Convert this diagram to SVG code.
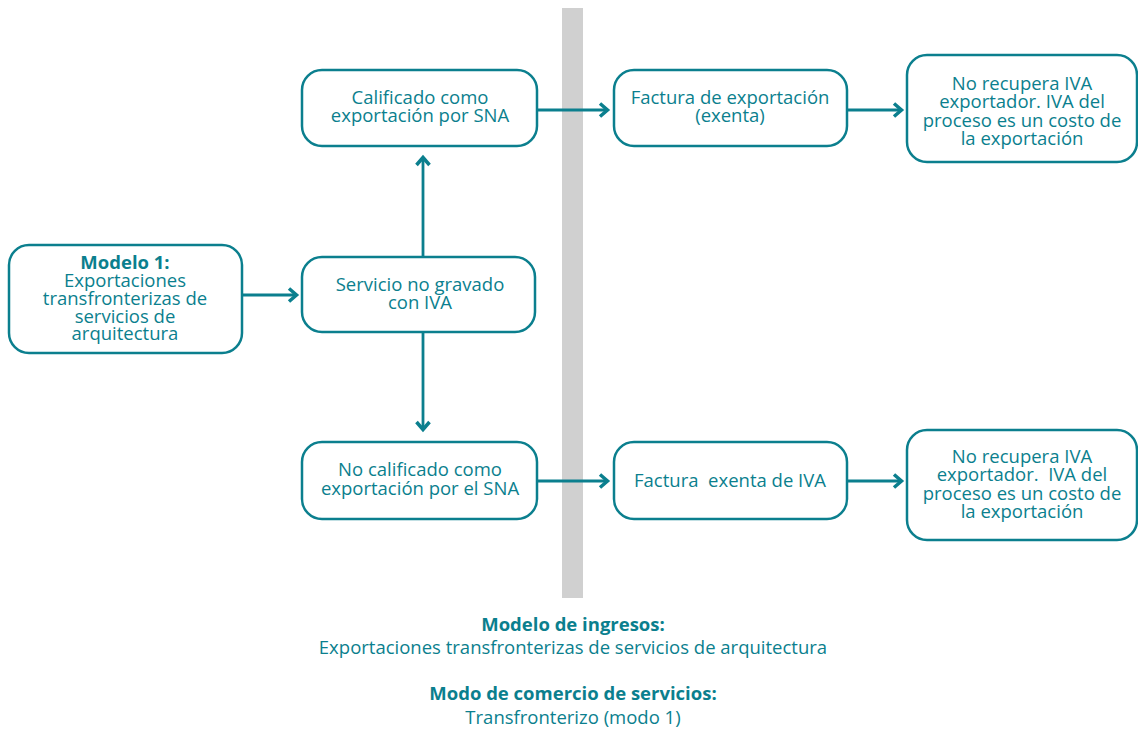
<svg xmlns="http://www.w3.org/2000/svg" width="1138" height="730" viewBox="0 0 1138 730">
<style>
.box{fill:#fff;stroke:#0b7f8e;stroke-width:2.5}
.t{font-family:"Open Sans","Liberation Sans",sans-serif;font-size:18.5px;fill:#0b7f8e;text-anchor:middle}
.b{font-weight:bold}
.c{fill:none;stroke:#0b7f8e;stroke-width:2.8}
</style>
<defs>
<marker id="ah" viewBox="0 0 14 16" refX="11" refY="8" markerWidth="14" markerHeight="16" markerUnits="userSpaceOnUse" orient="auto">
<path d="M3,1.5 L10.5,8 L3,14.5" fill="none" stroke="#0b7f8e" stroke-width="3.5"/>
</marker>
</defs>
<rect x="562" y="8" width="21" height="590" fill="#d0d0d0"/>
<g id="connectors">
<line class="c" x1="242" y1="295" x2="297" y2="295" marker-end="url(#ah)"/>
<line class="c" x1="423" y1="257" x2="423" y2="157" marker-end="url(#ah)"/>
<line class="c" x1="423" y1="332" x2="423" y2="430" marker-end="url(#ah)"/>
<line class="c" x1="537" y1="110" x2="608" y2="110" marker-end="url(#ah)"/>
<line class="c" x1="847" y1="110" x2="902" y2="110" marker-end="url(#ah)"/>
<line class="c" x1="537" y1="481" x2="608" y2="481" marker-end="url(#ah)"/>
<line class="c" x1="847" y1="481" x2="902" y2="481" marker-end="url(#ah)"/>
</g>
<g id="nodeA">
<rect class="box" x="9" y="245" width="233" height="108" rx="20"/>
<text class="t b" x="125" y="269">Modelo 1:</text>
<text class="t" x="125" y="287">Exportaciones</text>
<text class="t" x="125" y="305">transfronterizas de</text>
<text class="t" x="125" y="323">servicios de</text>
<text class="t" x="125" y="340">arquitectura</text>
</g>
<g id="nodeB">
<rect class="box" x="302" y="257" width="233" height="75" rx="20"/>
<text class="t" x="420" y="291">Servicio no gravado</text>
<text class="t" x="420" y="309">con IVA</text>
</g>
<g id="nodeC">
<rect class="box" x="302" y="70" width="235" height="76" rx="20"/>
<text class="t" x="420" y="104">Calificado como</text>
<text class="t" x="420" y="122">exportación por SNA</text>
</g>
<g id="nodeD">
<rect class="box" x="302" y="442" width="235" height="77" rx="20"/>
<text class="t" x="420" y="476">No calificado como</text>
<text class="t" x="420" y="495">exportación por el SNA</text>
</g>
<g id="nodeE">
<rect class="box" x="614" y="70" width="233" height="76" rx="20"/>
<text class="t" x="730" y="104">Factura de exportación</text>
<text class="t" x="730" y="122">(exenta)</text>
</g>
<g id="nodeF">
<rect class="box" x="907" y="55" width="230" height="107" rx="20"/>
<text class="t" x="1022" y="90">No recupera IVA</text>
<text class="t" x="1022" y="108">exportador. IVA del</text>
<text class="t" x="1022" y="127">proceso es un costo de</text>
<text class="t" x="1022" y="145">la exportación</text>
</g>
<g id="nodeG">
<rect class="box" x="614" y="442" width="233" height="77" rx="20"/>
<text class="t" x="730" y="487" xml:space="preserve">Factura  exenta de IVA</text>
</g>
<g id="nodeH">
<rect class="box" x="907" y="430" width="230" height="110" rx="20"/>
<text class="t" x="1022" y="463">No recupera IVA</text>
<text class="t" x="1022" y="481" xml:space="preserve">exportador.  IVA del</text>
<text class="t" x="1022" y="500">proceso es un costo de</text>
<text class="t" x="1022" y="518">la exportación</text>
</g>
<g id="legend">
<text class="t b" x="573" y="631">Modelo de ingresos:</text>
<text class="t" x="573" y="654">Exportaciones transfronterizas de servicios de arquitectura</text>
<text class="t b" x="573" y="700">Modo de comercio de servicios:</text>
<text class="t" x="573" y="724">Transfronterizo (modo 1)</text>
</g>
</svg>
